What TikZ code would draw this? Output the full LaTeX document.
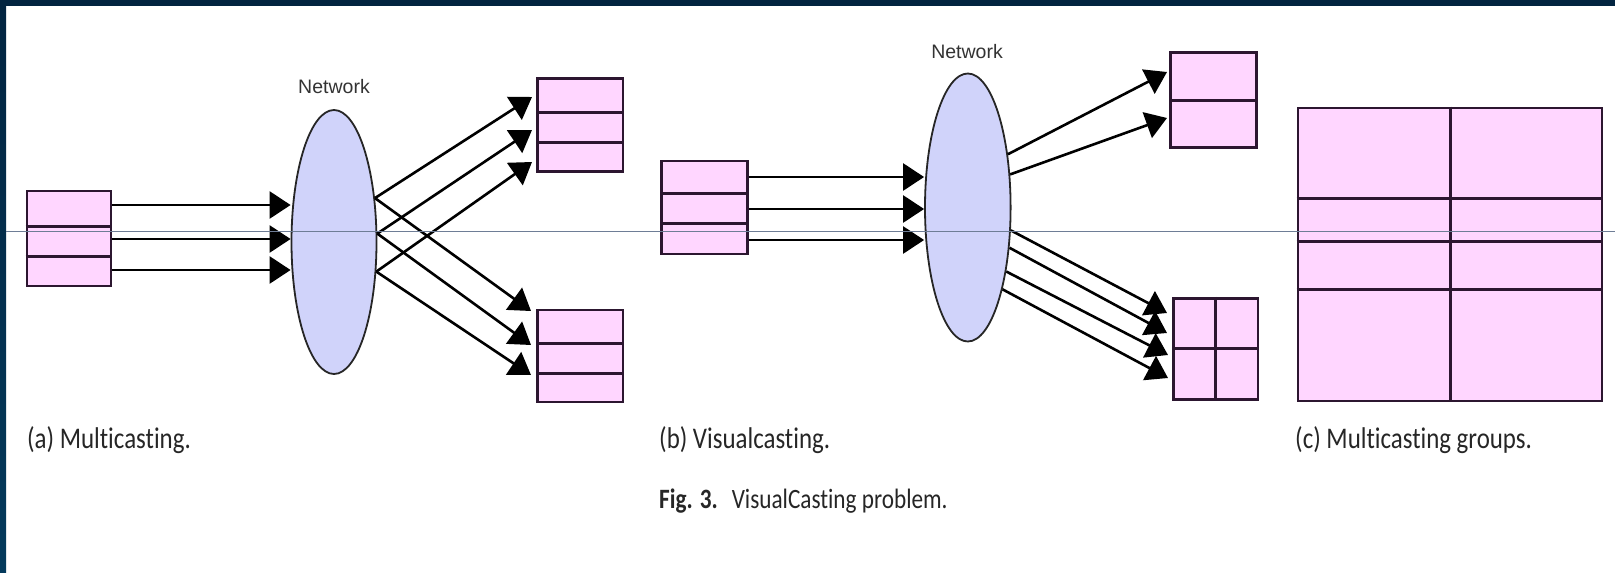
\documentclass[tikz,border=0pt]{standalone}
\usepackage{fontspec}
\setmainfont{Liberation Sans}
\newfontfamily\capfont[FakeStretch=0.83,Ligatures=NoCommon]{Carlito}
\usetikzlibrary{arrows.meta,shapes.geometric}
\definecolor{framenavy}{RGB}{2,36,64}
\definecolor{framesea}{RGB}{4,58,92}
\definecolor{cellpink}{RGB}{255,214,255}
\definecolor{cellline}{RGB}{44,22,48}
\definecolor{cloudblue}{RGB}{208,211,250}
\definecolor{scanline}{RGB}{110,125,150}
\tikzset{
    cell/.style={draw=cellline, fill=cellpink, line width=2.8pt, inner sep=0pt},
    divider/.style={draw=cellline, line width=3pt},
    cloud/.style={ellipse, draw=black!85, fill=cloudblue, line width=1.8pt, inner sep=0pt},
    flow/.style={draw=black, line width=2.6pt, -{Triangle[length=21pt,width=27pt]}},
    netlabel/.style={anchor=base, inner sep=0pt, text=black!80, font=\fontsize{19.5}{20}\selectfont},
    subcap/.style={anchor=base west, inner sep=0pt, text=black!85, font=\capfont\fontsize{30}{32}\selectfont},
}
\begin{document}
\begin{tikzpicture}[x=1pt,y=-1pt]
    \useasboundingbox (0,0) rectangle (1615,573);
    \fill[white] (0,0) rectangle (1615,573);
    \fill[framenavy] (0,0) rectangle (1615,6);
    \shade[top color=framenavy, bottom color=framesea] (0,0) rectangle (6,573);

    % (a)
    \node[cell, minimum width=84, minimum height=95] (srca) at (69,238.5) {};
    \node[cell, minimum width=85.4, minimum height=93.7] (topa) at (580.3,125) {};
    \node[cell, minimum width=85.4, minimum height=92] (bota) at (580.3,356) {};
    \node[cloud, minimum width=85, minimum height=264] (neta) at (334,242) {};
    \node[netlabel] (nla) at (334,93) {Network};
    \foreach \y in {226,256} \draw[divider] (srca.west |- 0,\y) -- (srca.east |- 0,\y);
    \foreach \y in {112.7,142.7} \draw[divider] (topa.west |- 0,\y) -- (topa.east |- 0,\y);
    \foreach \y in {343,373} \draw[divider] (bota.west |- 0,\y) -- (bota.east |- 0,\y);
    \foreach \n/\x/\y in {ta1/532/97,ta2/532/130,ta3/532/162,ba1/531/311,ba2/531/345,ba3/531/375} {
        \coordinate (\n) at (\x,\y);
    }
    \foreach \y in {205,239,270} \draw[flow] (srca.east |- 0,\y) -- (neta.west |- 0,\y);
    \foreach \a/\t in {47/ta1,11/ta2,325/ta3,47/ba1,11/ba2,325/ba3} \draw[flow] (neta.\a) -- (\t);

    % (b)
    \node[cell, minimum width=85.5, minimum height=93] (srcb) at (704.5,207.5) {};
    \node[cell, minimum width=85.7, minimum height=94.6] (topb) at (1213.5,100) {};
    \node[cell, minimum width=84.5, minimum height=101] (quadb) at (1215.8,348.8) {};
    \node[cloud, minimum width=85.6, minimum height=268] (netb) at (967.8,207.5) {};
    \node[netlabel] (nlb) at (967,58) {Network};
    \foreach \y in {193,223.3} \draw[divider] (srcb.west |- 0,\y) -- (srcb.east |- 0,\y);
    \draw[divider] (topb.west) -- (topb.east);
    \draw[divider] (quadb.west) -- (quadb.east);
    \draw[divider] (quadb.north) -- (quadb.south);
    \foreach \n/\x/\y in {tb1/1167/72,tb2/1167/118,qb1/1167/313,qb2/1167/333,qb3/1168/355,qb4/1168/378} {
        \coordinate (\n) at (\x,\y);
    }
    \foreach \y in {177,209,240} \draw[flow] (srcb.east |- 0,\y) -- (netb.west |- 0,\y);
    \foreach \a/\t in {53/tb1,38/tb2,332/qb1,316/qb2,301/qb3,293/qb4} \draw[flow] (netb.\a) -- (\t);

    % (c)
    \node[cell, minimum width=304, minimum height=293] (grp) at (1450,254.5) {};
    \foreach \y in {198,241,289} \draw[divider] (grp.west |- 0,\y) -- (grp.east |- 0,\y);
    \draw[divider] (grp.north) -- (grp.south);

    \node[subcap] (capa) at (27,448) {(a) Multicasting.};
    \node[subcap] (capb) at (659,448) {(b) Visualcasting.};
    \node[subcap] (capc) at (1295,448) {(c) Multicasting groups.};
    \node[subcap, font=\capfont\fontsize{28}{30}\selectfont] (capfig) at (659,508) {\textbf{Fig. 3.}\hspace{0.5em}VisualCasting problem.};

    \draw[scanline, line width=1pt] (6,231) -- (1615,231);
\end{tikzpicture}
\end{document}
